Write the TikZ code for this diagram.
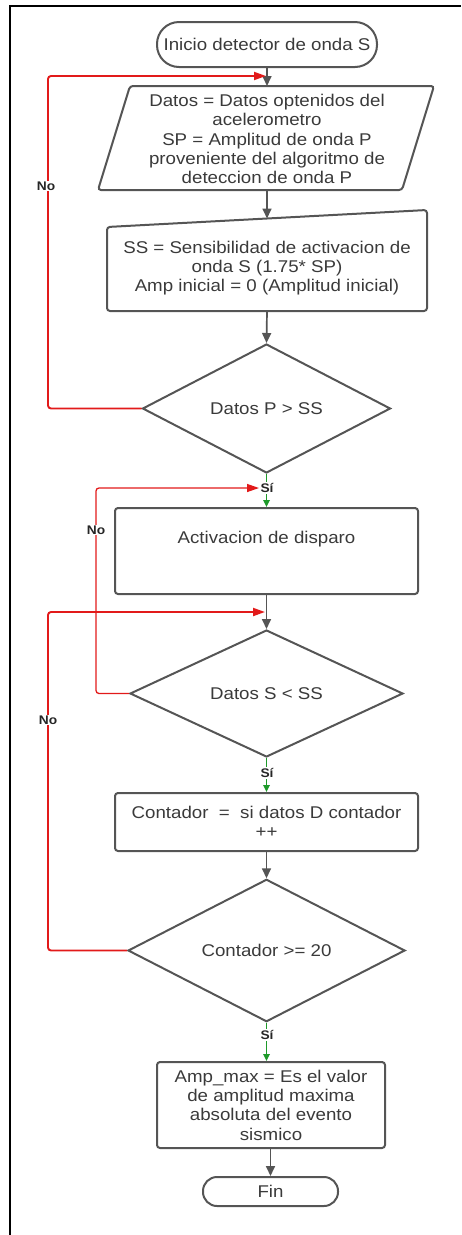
\documentclass[tikz,border=0pt]{standalone}
\usepackage{fontspec}
\setmainfont{Liberation Sans}[FakeStretch=1.1]
\usetikzlibrary{shapes.geometric,arrows.meta}
\definecolor{shp}{HTML}{555555}
\definecolor{txt}{HTML}{3A3A3A}
\definecolor{redl}{HTML}{E21A1A}
\definecolor{grn}{HTML}{1E9A2A}
\begin{document}
\begin{tikzpicture}[x=1pt,y=-1pt,
  every node/.style={font=\fontsize{17}{19.3}\selectfont, text=txt},
  box/.style={draw=shp, line width=2pt, rounded corners=3pt, inner sep=0pt},
  outline/.style={draw=shp, line width=2pt, rounded corners=3pt},
  term/.style={draw=shp, line width=2pt, inner sep=0pt},
  dec/.style={diamond, draw=shp, line width=2pt, inner sep=0pt},
  flow/.style={draw=shp, line width=1.7pt, -{Triangle[length=10pt,width=9pt]}},
  nolink/.style={draw=redl, line width=1.9pt, rounded corners=3pt, -{Triangle[length=12pt,width=8pt]}},
  nolinkthin/.style={draw=redl, line width=1.3pt, rounded corners=3pt, -{Triangle[length=12pt,width=8pt]}},
  yeslink/.style={draw=grn, line width=1.6pt, -{Triangle[length=7pt,width=6.5pt]}},
  lbl/.style={font=\bfseries\fontsize{12.5}{14}\selectfont, fill=white, inner sep=1pt, text=black!85}
]
\useasboundingbox (0,0) rectangle (461,1235);
% frame
\draw[line width=2pt, black] (9.5,1235) -- (9.5,6) -- (461,6);

% start
\node[term, minimum width=220pt, minimum height=45pt, rounded corners=22pt] (start) at (267,44.5) {Inicio detector de onda S};

% data (parallelogram)
\draw[outline] (130,86) -- (434,86) -- (402,190) -- (98,190) -- cycle;
\coordinate (dataN) at (267,86);
\coordinate (dataS) at (267,190);
\node[align=center] (data) at (267,139) {Datos = Datos optenidos del\\acelerometro\\SP = Amplitud de onda P\\proveniente del algoritmo de\\deteccion de onda P};

% init (manual input)
\draw[outline] (107,227) -- (427,210) -- (427,311) -- (107,311) -- cycle;
\coordinate (initN) at (267,218.5);
\coordinate (initS) at (267,311);
\node[align=center] (init) at (267,268) {SS = Sensibilidad de activacion de\\onda S (1.75* SP)\\Amp inicial = 0 (Amplitud inicial)};

% decision 1
\node[dec, minimum width=248pt, minimum height=129pt] (d1) at (266.5,408.5) {Datos P > SS};

% box 3
\node[box, minimum width=303pt, minimum height=86pt] (b3) at (266.5,551) {};
\node (b3t) at (266.5,539) {Activacion de disparo};

% decision 2
\node[dec, minimum width=273pt, minimum height=127pt] (d2) at (266.5,693.5) {Datos S < SS};

% box 4
\node[box, minimum width=303pt, minimum height=58pt, align=center] (b4) at (266.5,822) {Contador \ = \ si datos D contador\\++};

% decision 3
\node[dec, minimum width=277pt, minimum height=127pt] (d3) at (266.5,950.5) {Contador >= 20};

% box 5
\node[box, minimum width=228pt, minimum height=86pt, align=center] (b5) at (271,1105) {Amp\_max = Es el valor\\de amplitud maxima\\absoluta del evento\\sismico};

% end
\node[term, minimum width=135pt, minimum height=29pt, rounded corners=14pt] (fin) at (270.5,1191.5) {Fin};

% rails and joints
\coordinate (railA) at (48,0);
\coordinate (railB) at (96,0);
\coordinate (j1) at (266,76);
\coordinate (j2) at (259,488);
\coordinate (j3) at (265,612);

% gray flow
\draw[flow] (start.south) -- (dataN);
\draw[flow] (dataS) -- (initN);
\draw[flow] (initS) -- (d1.north);
\draw[flow] (b3.south) -- (d2.north);
\draw[flow] (b4.south) -- (d3.north);
\draw[flow] (b5.south -| fin.north) -- (fin.north);

% red no-loops
\draw[nolink] (d1.west) -- (d1.west -| railA) -- (j1 -| railA) -- (j1);
\node[lbl] (no1) at (46,186) {No};
\draw[nolinkthin] (d2.west) -- (d2.west -| railB) -- (j2 -| railB) -- (j2);
\node[lbl] (no2) at (96,530) {No};
\draw[nolink] (d3.west) -- (d3.west -| railA) -- (j3 -| railA) -- (j3);
\node[lbl] (no3) at (48,720) {No};

% green yes
\draw[yeslink] (d1.south) -- (d1.south |- b3.north);
\node[lbl] (si1) at (267,488) {Sí};
\draw[yeslink] (d2.south) -- (d2.south |- b4.north);
\node[lbl] (si2) at (267,773) {Sí};
\draw[yeslink] (d3.south) -- (d3.south |- b5.north);
\node[lbl] (si3) at (267,1035) {Sí};
\end{tikzpicture}
\end{document}
